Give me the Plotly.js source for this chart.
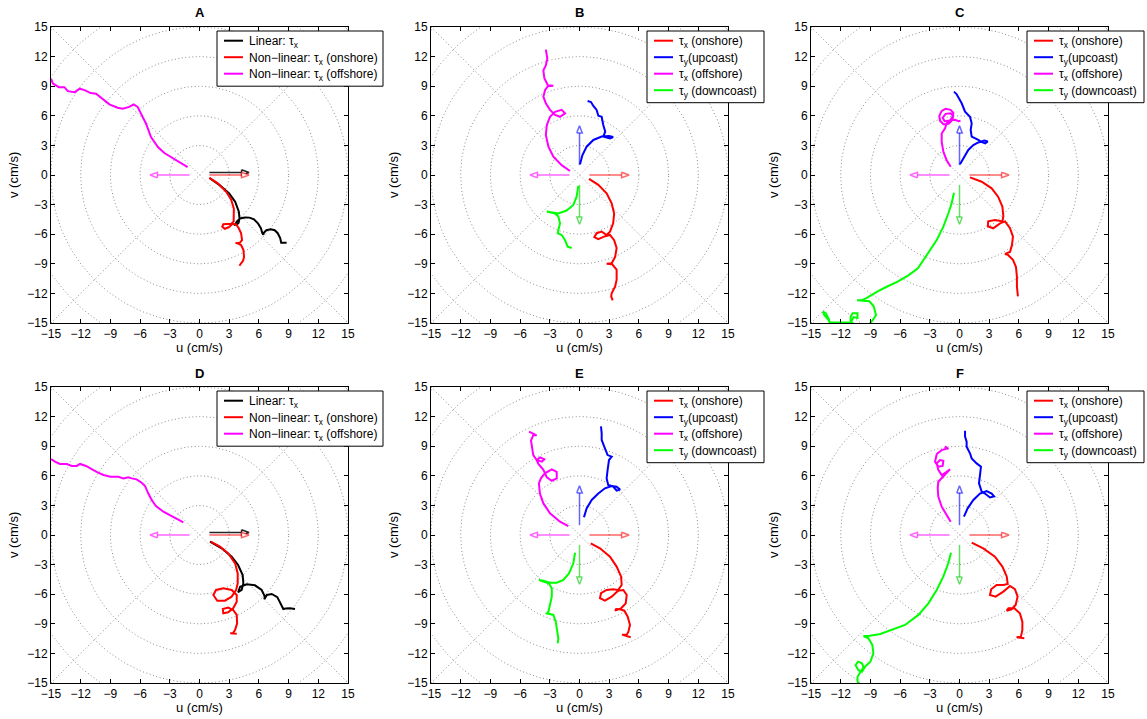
<!DOCTYPE html>
<html><head><meta charset="utf-8">
<script src="https://cdn.plot.ly/plotly-3.0.1.min.js"></script>
<style>html,body{margin:0;padding:0;background:#fff}#chart{width:1147px;height:719px}</style>
</head><body><div id="chart"></div>
<script>
// ---------- axis ticks & grid ----------
const TICK_VALUES = [-15, -12, -9, -6, -3, 0, 3, 6, 9, 12, 15];
const AXIS_RANGE = [-15, 15];
const RING_RADII = [3, 6, 9, 12, 15, 18, 21];
const PANEL_LETTERS = ['A', 'B', 'C', 'D', 'E', 'F'];

// ---------- legend names ----------
const NAMES_LIN = ['Linear: τ<sub>x</sub>', 'Non−linear: τ<sub>x</sub> (onshore)', 'Non−linear: τ<sub>x</sub> (offshore)'];
const NAMES_DIR = ['τ<sub>x</sub> (onshore)', 'τ<sub>y</sub>(upcoast)', 'τ<sub>x</sub> (offshore)', 'τ<sub>y</sub> (downcoast)'];

// ---------- wind-stress arrows (u0,v0 -> u1,v1) ----------
const arrowLin_u0 = [1, 1, -1];
const arrowLin_v0 = [0.25, 0, 0];
const arrowLin_u1 = [5, 5, -5];
const arrowLin_v1 = [0.25, 0, 0];
const arrowDir_u0 = [1, 0, -1, 0];
const arrowDir_v0 = [0, 1, 0, -1];
const arrowDir_u1 = [5, 0, -5, 0];
const arrowDir_v1 = [0, 5, 0, -5];

// ---------- Panel A ----------
const A_lin_u = [1.0, 2.0, 3.0, 3.6, 3.97, 4.04, 3.95, 3.75, 3.6, 3.75, 4.1, 4.6, 5.05, 5.5, 5.9, 6.2, 6.35, 6.45, 6.5, 6.75, 7.2, 7.6, 7.9, 8.15, 8.25, 8.5, 8.8];
const A_lin_v = [-0.3, -1.0, -1.86, -2.7, -3.7, -4.4, -4.85, -5.05, -5.05, -4.75, -4.4, -4.3, -4.32, -4.5, -4.9, -5.4, -5.9, -6.05, -5.85, -5.6, -5.5, -5.6, -5.9, -6.4, -6.86, -6.88, -6.86];
const A_on_u = [1.0, 1.85, 2.7, 3.2, 3.47, 3.5, 3.45, 3.2, 2.8, 2.4, 2.3, 2.55, 2.95, 3.35, 3.7, 3.97, 4.2, 4.3, 4.04, 3.64, 3.9, 4.2, 4.44, 4.5, 4.4, 4.2, 4.04];
const A_on_v = [-0.3, -0.84, -1.7, -2.5, -3.4, -4.2, -4.7, -4.95, -4.95, -5.0, -5.25, -5.45, -5.3, -4.95, -5.0, -5.4, -5.9, -6.6, -6.9, -6.9, -6.95, -7.1, -7.6, -8.3, -8.7, -8.95, -9.2];
const A_off_u = [-1.2, -2.54, -3.55, -4.2, -4.9, -5.4, -5.9, -6.25, -6.65, -7.1, -7.76, -8.27, -9.1, -9.8, -10.45, -11.0, -11.6, -12.1, -12.6, -13.3, -13.65, -14.2, -14.8, -15.0];
const A_off_v = [0.8, 1.66, 2.23, 2.84, 3.85, 5.2, 6.2, 6.9, 7.16, 6.9, 6.72, 6.82, 7.16, 7.74, 8.24, 8.3, 8.6, 8.75, 8.4, 8.5, 8.9, 8.9, 9.26, 9.76];

// ---------- Panel B ----------
const B_on_u = [0.96, 1.9, 2.74, 3.25, 3.5, 3.4, 3.08, 2.74, 2.24, 1.73, 1.5, 1.9, 2.6, 3.08, 3.5, 3.75, 3.6, 3.25, 2.74, 3.3, 3.75, 3.75, 3.6, 3.25, 3.2, 3.35];
const B_on_v = [-0.4, -1.0, -1.86, -2.87, -3.9, -4.9, -5.74, -6.08, -5.74, -5.9, -6.3, -6.5, -6.2, -6.08, -6.6, -7.4, -8.3, -8.95, -9.0, -9.05, -9.6, -10.6, -11.3, -12.0, -12.3, -12.7];
const B_up_u = [0.05, 0.29, 0.72, 1.4, 2.24, 2.98, 3.4, 3.08, 2.4, 2.6, 2.4, 2.24, 1.9, 1.73, 1.4, 1.16, 0.82];
const B_up_v = [1.1, 2.0, 2.87, 3.55, 3.9, 3.95, 3.85, 3.7, 3.9, 4.4, 5.07, 5.9, 6.0, 6.6, 7.0, 7.4, 7.5];
const B_off_u = [-0.96, -1.8, -2.64, -3.14, -3.4, -3.3, -2.98, -2.47, -1.8, -1.46, -1.97, -2.47, -2.98, -3.4, -3.65, -3.48, -3.2, -2.64, -3.2, -3.55, -3.65, -3.4, -3.25, -3.4];
const B_off_v = [0.4, 1.0, 1.86, 2.87, 4.05, 5.07, 5.9, 6.4, 6.6, 6.25, 5.9, 6.08, 6.6, 7.26, 7.94, 8.6, 9.0, 9.05, 9.1, 9.8, 10.6, 11.1, 11.8, 12.7];
const B_down_u = [-0.12, -0.29, -0.62, -1.3, -2.14, -2.64, -3.3, -2.47, -2.14, -1.97, -2.14, -2.2, -1.8, -1.46, -1.2, -0.79];
const B_down_v = [-1.1, -2.2, -3.04, -3.6, -3.9, -3.8, -3.7, -3.9, -4.2, -4.9, -5.6, -5.9, -6.08, -6.6, -7.26, -7.4];

// ---------- Panel C ----------
const C_on_u = [1.06, 2.24, 3.25, 3.9, 4.33, 4.43, 4.33, 3.6, 2.9, 2.86, 3.4, 4.1, 4.6, 5.1, 5.4, 5.3, 5.1, 4.6, 4.9, 5.4, 5.7, 5.8, 5.8, 5.9];
const C_on_v = [-0.24, -0.68, -1.35, -2.2, -3.2, -4.2, -4.7, -4.56, -4.7, -5.2, -5.4, -4.9, -4.7, -5.4, -6.25, -7.1, -7.8, -8.0, -8.1, -8.6, -9.3, -10.3, -11.3, -12.3];
const C_up_u = [0.05, 0.39, 0.89, 1.4, 1.9, 2.5, 2.85, 2.6, 2.2, 1.9, 1.23, 1.13, 1.23, 1.06, 0.56, 0.22, -0.12, -0.3, -0.56];
const C_up_v = [1.1, 1.7, 2.54, 3.04, 3.3, 3.5, 3.4, 3.2, 3.35, 3.55, 3.89, 4.56, 5.24, 5.9, 6.42, 7.27, 7.94, 8.2, 8.45];
const C_off_u = [-0.89, -1.3, -1.63, -1.8, -1.8, -1.46, -1.3, -1.0, -0.7, -0.62, -0.9, -1.4, -1.8, -2.04, -1.97, -1.63, -1.1, -0.7, -0.65, -0.9, -1.4, -1.7, -1.5, -1.0, -0.45, -0.1, 0.1];
const C_off_v = [0.84, 1.5, 2.37, 3.38, 4.2, 4.73, 5.24, 5.5, 5.9, 6.3, 6.6, 6.7, 6.5, 6.0, 5.5, 5.15, 5.2, 5.6, 6.0, 6.25, 6.2, 5.8, 5.45, 5.5, 5.6, 5.45, 5.5];
const C_down_u = [-0.56, -0.79, -1.13, -1.63, -2.3, -3.2, -4.2, -5.2, -6.25, -7.3, -8.27, -9.44, -9.95, -10.35, -9.95, -9.1, -8.67, -8.43, -8.77, -9.0, -9.6, -10.5, -11.0, -11.0, -10.8, -10.3, -10.3, -10.7, -11.0, -12.0, -13.1, -13.3, -13.65, -13.8, -13.5, -13.2, -13.1];
const C_down_v = [-1.8, -2.87, -3.9, -5.24, -6.6, -7.9, -9.46, -10.2, -10.8, -11.3, -11.8, -12.5, -12.7, -12.7, -12.72, -12.8, -13.3, -14.2, -14.7, -15.0, -15.4, -15.3, -14.8, -14.4, -14.0, -14.0, -14.5, -14.4, -14.95, -14.95, -14.95, -14.6, -14.2, -13.85, -14.0, -14.6, -15.05];

// ---------- Panel D ----------
const D_lin_u = [1.06, 2.24, 3.25, 3.9, 4.36, 4.43, 4.26, 3.9, 4.1, 4.77, 5.6, 6.28, 6.6, 6.55, 6.8, 7.3, 7.86, 8.3, 8.47, 8.7, 9.14, 9.65];
const D_lin_v = [-0.68, -1.35, -2.2, -3.04, -4.05, -4.9, -5.57, -5.8, -5.24, -5.0, -5.1, -5.57, -6.25, -6.5, -6.08, -5.98, -6.3, -7.1, -7.5, -7.45, -7.43, -7.5];
const D_on_u = [1.13, 2.07, 2.9, 3.6, 3.86, 3.86, 3.7, 3.25, 2.57, 1.8, 1.4, 1.67, 2.4, 3.25, 3.76, 3.76, 3.4, 2.9, 2.4, 2.36, 2.9, 3.4, 3.76, 3.8, 3.6, 3.37, 3.1, 3.76];
const D_on_v = [-0.68, -1.18, -1.86, -2.87, -3.9, -4.9, -5.57, -6.25, -6.66, -6.66, -6.08, -5.57, -5.4, -5.57, -6.08, -6.76, -7.43, -7.84, -7.94, -7.5, -7.36, -7.6, -8.1, -8.95, -9.6, -9.97, -9.97, -10.0];
const D_off_u = [-1.63, -2.64, -3.65, -4.4, -4.83, -5.17, -5.5, -5.84, -6.35, -6.85, -7.2, -7.7, -8.2, -9.0, -9.7, -10.4, -11.05, -11.46, -12.07, -12.4, -12.9, -13.4, -14.1, -14.6, -15.0];
const D_off_v = [1.28, 1.86, 2.36, 2.94, 3.55, 4.2, 4.97, 5.3, 5.64, 5.74, 5.84, 5.74, 5.9, 5.9, 6.08, 6.4, 6.76, 7.0, 7.2, 7.0, 7.0, 7.2, 7.2, 7.43, 7.7];

// ---------- Panel E ----------
const E_on_u = [1.13, 2.07, 3.08, 3.75, 4.2, 4.26, 3.9, 3.4, 2.74, 2.17, 2.07, 2.57, 3.25, 3.9, 4.43, 4.77, 4.67, 4.2, 3.6, 3.7, 4.1, 4.53, 4.87, 5.1, 4.94, 4.77, 4.3, 5.17];
const E_on_v = [-0.84, -1.35, -2.2, -3.2, -4.2, -5.07, -5.57, -5.5, -5.57, -5.9, -6.4, -6.66, -6.25, -5.64, -5.57, -6.08, -6.93, -7.43, -7.67, -7.5, -7.53, -7.67, -8.28, -9.12, -9.8, -10.1, -10.1, -10.37];
const E_up_u = [0.45, 0.72, 1.23, 1.9, 2.57, 3.25, 3.75, 4.1, 3.75, 3.4, 2.9, 2.74, 2.84, 2.98, 3.25, 2.84, 2.57, 2.24, 2.24, 2.17];
const E_up_v = [1.8, 2.7, 3.55, 4.2, 4.73, 4.97, 4.9, 4.6, 4.5, 4.9, 5.07, 5.74, 6.6, 7.6, 7.94, 8.1, 8.78, 9.63, 10.3, 11.0];
const E_off_u = [-1.13, -1.97, -2.98, -3.65, -4.0, -4.1, -3.9, -3.5, -2.8, -2.3, -2.3, -2.8, -3.3, -3.65, -4.15, -4.33, -3.98, -3.55, -3.8, -4.33, -4.67, -4.83, -4.9, -4.67, -4.33, -5.1];
const E_off_v = [0.9, 1.35, 2.2, 3.2, 4.2, 5.24, 5.74, 6.25, 6.66, 6.4, 5.74, 5.5, 5.84, 6.6, 7.2, 7.6, 7.87, 7.67, 7.43, 7.6, 8.1, 8.95, 9.6, 10.1, 10.1, 10.47];
const E_down_u = [-0.45, -0.62, -1.06, -1.63, -2.3, -2.98, -3.65, -4.1, -3.1, -2.8, -2.8, -2.98, -3.14, -3.3, -2.64, -2.4, -2.3, -2.14, -2.2];
const E_down_v = [-1.8, -2.87, -3.9, -4.56, -4.83, -4.83, -4.63, -4.56, -4.9, -5.4, -6.25, -7.26, -7.77, -7.94, -8.1, -8.78, -9.63, -10.47, -10.98];

// ---------- Panel F ----------
const F_on_u = [1.23, 2.4, 3.58, 4.33, 4.77, 4.87, 4.43, 3.75, 3.2, 3.08, 3.65, 4.43, 5.1, 5.6, 5.87, 5.67, 5.27, 4.77, 4.94, 5.54, 6.1, 6.35, 6.35, 6.2, 5.77, 6.55];
const F_on_v = [-0.78, -1.35, -2.2, -3.2, -4.2, -4.97, -5.07, -5.07, -5.5, -6.08, -6.25, -5.74, -5.17, -5.5, -6.25, -7.1, -7.53, -7.67, -7.43, -7.43, -7.94, -8.78, -9.63, -10.3, -10.37, -10.47];
const F_up_u = [0.45, 0.82, 1.4, 2.07, 2.74, 3.25, 3.5, 3.08, 2.57, 2.24, 1.97, 2.07, 2.17, 1.73, 1.23, 1.06, 0.72, 0.72, 0.56, 0.56];
const F_up_v = [1.86, 2.7, 3.55, 4.2, 4.46, 4.2, 3.9, 3.8, 4.2, 4.4, 5.24, 6.08, 6.93, 7.26, 7.77, 8.28, 8.95, 9.46, 9.97, 10.57];
const F_off_u = [-0.89, -1.3, -1.8, -2.14, -2.2, -2.14, -1.63, -1.13, -0.96, -1.3, -1.8, -2.14, -2.3, -1.97, -1.63, -1.7, -2.14, -2.47, -2.3, -1.8, -1.2, -1.13, -1.46];
const F_off_v = [1.35, 2.03, 2.87, 3.9, 4.73, 5.4, 5.9, 6.4, 6.66, 6.4, 6.08, 6.6, 7.26, 7.6, 7.53, 7.0, 6.93, 7.43, 8.2, 8.6, 8.78, 8.7, 9.0];
const F_down_u = [-0.86, -1.13, -1.63, -2.3, -3.14, -4.15, -5.5, -6.85, -8.0, -9.2, -9.7, -9.2, -8.8, -8.7, -9.0, -9.5, -9.85, -10.2, -10.5, -10.25, -9.85, -9.7, -10.0, -10.3, -10.3, -10.16];
const F_down_v = [-1.8, -2.87, -4.2, -5.57, -6.93, -8.1, -9.12, -9.63, -10.03, -10.24, -10.24, -10.47, -11.15, -12.0, -12.84, -13.3, -13.85, -13.7, -13.2, -12.84, -13.0, -13.4, -13.85, -14.36, -14.86, -15.1];

// ---------- styling ----------
const FONT = 'Liberation Sans, Arial, Helvetica, sans-serif';
const COL_LIN = ['#000000', '#ff0000', '#ff00ff'];
const COL_DIR = ['#ff0000', '#0000ff', '#ff00ff', '#00ff00'];
const ARROW_COL_LIN = ['rgba(0,0,0,0.85)', 'rgba(255,0,0,0.6)', 'rgba(255,0,255,0.6)'];
const ARROW_COL_DIR = ['rgba(255,0,0,0.6)', 'rgba(0,0,255,0.6)', 'rgba(255,0,255,0.6)', 'rgba(0,200,0,0.6)'];

const panels = [
  {series: [[A_lin_u, A_lin_v], [A_on_u, A_on_v], [A_off_u, A_off_v]], names: NAMES_LIN, cols: COL_LIN, arrows: 'lin'},
  {series: [[B_on_u, B_on_v], [B_up_u, B_up_v], [B_off_u, B_off_v], [B_down_u, B_down_v]], names: NAMES_DIR, cols: COL_DIR, arrows: 'dir'},
  {series: [[C_on_u, C_on_v], [C_up_u, C_up_v], [C_off_u, C_off_v], [C_down_u, C_down_v]], names: NAMES_DIR, cols: COL_DIR, arrows: 'dir'},
  {series: [[D_lin_u, D_lin_v], [D_on_u, D_on_v], [D_off_u, D_off_v]], names: NAMES_LIN, cols: COL_LIN, arrows: 'lin'},
  {series: [[E_on_u, E_on_v], [E_up_u, E_up_v], [E_off_u, E_off_v], [E_down_u, E_down_v]], names: NAMES_DIR, cols: COL_DIR, arrows: 'dir'},
  {series: [[F_on_u, F_on_v], [F_up_u, F_up_v], [F_off_u, F_off_v], [F_down_u, F_down_v]], names: NAMES_DIR, cols: COL_DIR, arrows: 'dir'}
];

// layout geometry (pixels of the 1147x719 page)
const W = 1147, H = 719;
const colPx = [[51, 348], [431, 728], [811, 1108]];
const rowPx = [[27, 323], [387, 683]];
const legendBoxPx = {lin: [217, 383], dir: [647, 764]};   // left/right of box in first column where used
const legendLeftPx = [217, 647, 1027];
const legendRightPx = [383, 764, 1144];
const LEG_TOP_OFF = 4, LEG_ROW0 = 9.7, LEG_ROW_STEP = 16.5, LEG_PAD_BOTTOM = 12.5;

const traces = [];
const shapes = [];
const annotations = [];
const layout = {
  width: W, height: H, margin: {l: 0, r: 0, t: 0, b: 0},
  paper_bgcolor: '#ffffff', plot_bgcolor: '#ffffff',
  font: {family: FONT, size: 12, color: '#000'},
  showlegend: false, hovermode: false
};

function gridXY() {
  const xs = [], ys = [];
  RING_RADII.forEach(r => {
    for (let k = 0; k <= 240; k++) {
      const t = 2 * Math.PI * k / 240;
      xs.push(r * Math.cos(t)); ys.push(r * Math.sin(t));
    }
    xs.push(null); ys.push(null);
  });
  const a = AXIS_RANGE[0], b = AXIS_RANGE[1];
  xs.push(a, b, null, a, b); ys.push(a, b, null, b, a);
  return [xs, ys];
}

function arrowXY(u0, v0, u1, v1) {
  const dx = u1 - u0, dy = v1 - v0, L = Math.hypot(dx, dy);
  const ex = dx / L, ey = dy / L, px = -ey, py = ex;
  const hl = 0.75, hw = 0.28;
  const bx = u1 - hl * ex, by = v1 - hl * ey;
  return [
    [u0, bx, null, bx + hw * px, u1, bx - hw * px, bx + hw * px],
    [v0, by, null, by + hw * py, v1, by - hw * py, by + hw * py]
  ];
}

const px2x = p => p / W;
const px2y = p => 1 - p / H;

panels.forEach((p, i) => {
  const n = i + 1;
  const xa = 'x' + (n === 1 ? '' : n), ya = 'y' + (n === 1 ? '' : n);
  const xk = 'xaxis' + (n === 1 ? '' : n), yk = 'yaxis' + (n === 1 ? '' : n);
  const c = i % 3, r = Math.floor(i / 3);
  const xd = [px2x(colPx[c][0]), px2x(colPx[c][1])];
  const yd = [px2y(rowPx[r][1]), px2y(rowPx[r][0])];
  const axBase = {
    range: AXIS_RANGE.slice(), tickmode: 'array', tickvals: TICK_VALUES,
    ticktext: TICK_VALUES.map(v => v < 0 ? '−' + Math.abs(v) : String(v)),
    ticks: 'inside', ticklen: 4, tickwidth: 1, tickcolor: '#000',
    showline: true, linecolor: '#000', linewidth: 1, mirror: 'ticks',
    showgrid: false, zeroline: false, fixedrange: true,
    tickfont: {family: FONT, size: 12, color: '#000'}
  };
  layout[xk] = Object.assign({}, axBase, {domain: xd, anchor: ya});
  layout[yk] = Object.assign({}, axBase, {domain: yd, anchor: xa});

  // polar-style dotted grid
  const g = gridXY();
  traces.push({x: g[0], y: g[1], xaxis: xa, yaxis: ya, mode: 'lines', showlegend: false, hoverinfo: 'skip',
    line: {color: '#8c8c8c', width: 1, dash: '1px,2.5px'}});

  // wind-stress arrows
  const lin = p.arrows === 'lin';
  const au0 = lin ? arrowLin_u0 : arrowDir_u0, av0 = lin ? arrowLin_v0 : arrowDir_v0;
  const au1 = lin ? arrowLin_u1 : arrowDir_u1, av1 = lin ? arrowLin_v1 : arrowDir_v1;
  const acol = lin ? ARROW_COL_LIN : ARROW_COL_DIR;
  au0.forEach((_, k) => {
    const a = arrowXY(au0[k], av0[k], au1[k], av1[k]);
    traces.push({x: a[0], y: a[1], xaxis: xa, yaxis: ya, mode: 'lines', showlegend: false, hoverinfo: 'skip',
      fill: 'toself', fillcolor: '#ffffff', line: {color: acol[k], width: 1.5}});
  });

  // hodograph curves
  p.series.forEach((s, k) => {
    traces.push({x: s[0], y: s[1], xaxis: xa, yaxis: ya, mode: 'lines', name: p.names[k], showlegend: false,
      hoverinfo: 'skip', line: {color: p.cols[k], width: 2}});
  });

  // legend box (drawn as in the original figure)
  const top = rowPx[r][0] + LEG_TOP_OFF;
  const nItems = p.names.length;
  const bottom = top + LEG_ROW0 + LEG_ROW_STEP * (nItems - 1) + LEG_PAD_BOTTOM;
  const L0 = legendLeftPx[c] - (lin ? 0 : 0);
  const left = lin ? 217 + (colPx[c][0] - 51) : legendLeftPx[c];
  const right = legendRightPx[c];
  shapes.push({type: 'rect', xref: 'paper', yref: 'paper', x0: px2x(left), x1: px2x(right), y0: px2y(top), y1: px2y(bottom),
    line: {color: '#000', width: 1}, fillcolor: '#ffffff', layer: 'above'});
  p.names.forEach((nm, k) => {
    const yy = top + LEG_ROW0 + LEG_ROW_STEP * k;
    shapes.push({type: 'line', xref: 'paper', yref: 'paper', x0: px2x(left + 7), x1: px2x(left + 26), y0: px2y(yy), y1: px2y(yy),
      line: {color: p.cols[k], width: 2}, layer: 'above'});
    annotations.push({text: nm, xref: 'paper', yref: 'paper', x: px2x(left + 31), y: px2y(yy + 1.5), xanchor: 'left', yanchor: 'middle',
      showarrow: false, font: {family: FONT, size: 12, color: '#000'}, borderpad: 0});
  });

  const cx = (colPx[c][0] + colPx[c][1]) / 2 / W;
  const cy = 1 - (rowPx[r][0] + rowPx[r][1]) / 2 / H;
  annotations.push(
    {text: '<b>' + PANEL_LETTERS[i] + '</b>', xref: 'paper', yref: 'paper', x: cx, y: px2y(rowPx[r][0] - 14),
     xanchor: 'center', yanchor: 'middle', showarrow: false, font: {family: FONT, size: 13}},
    {text: 'u (cm/s)', xref: 'paper', yref: 'paper', x: cx, y: px2y(rowPx[r][1] + 24),
     xanchor: 'center', yanchor: 'middle', showarrow: false, font: {family: FONT, size: 13}},
    {text: 'v (cm/s)', xref: 'paper', yref: 'paper', x: px2x(colPx[c][0] - 38), y: cy, textangle: -90,
     xanchor: 'center', yanchor: 'middle', showarrow: false, font: {family: FONT, size: 13}}
  );
});

layout.shapes = shapes;
layout.annotations = annotations;
Plotly.newPlot('chart', traces, layout, {displayModeBar: false, staticPlot: true});
</script></body></html>
